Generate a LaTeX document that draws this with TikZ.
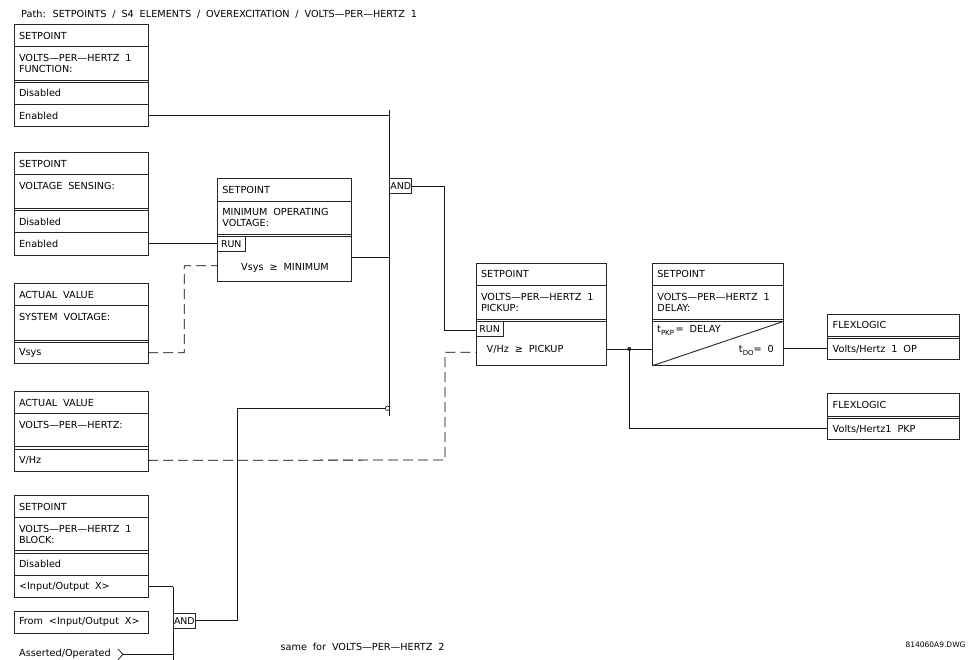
\documentclass[tikz,border=0pt]{standalone}
\usepackage{fontspec}
\setmainfont[WordSpace=1.9]{DejaVu Sans}
\newcommand\ninept{\fontsize{9.7}{11}\selectfont}
\newcommand\subtxt[1]{\raisebox{-3pt}{\fontsize{7}{8}\selectfont #1}}
\begin{document}
\begin{tikzpicture}[x=1pt,y=-1pt,
  bx/.style={draw=black!85, line width=0.9pt},
  rowb/.style={bx, fill=white, anchor=north west, inner xsep=5pt, inner ysep=0pt,
    outer sep=0pt, text width=#1, align=left, font=\ninept,
    execute at begin node={\spaceskip=0pt\xspaceskip=0pt}},
  outerb/.style={bx, anchor=north west, inner sep=0pt, outer sep=0pt},
  txt/.style={inner sep=0pt, font=\ninept, align=left},
  gate/.style={bx, fill=white, anchor=north west, inner sep=0pt, outer sep=0pt,
    font=\fontsize{9.4}{10}\selectfont},
  wire/.style={draw=black!90, line width=0.75pt},
  dwire/.style={draw=black, line width=0.8pt, dash pattern=on 10pt off 5pt},
]
\useasboundingbox (0,0) rectangle (974,660);
\fill[white] (0,0) rectangle (974,660);

\node[txt, anchor=west] (path) at (21,14) {Path: SETPOINTS / S4 ELEMENTS / OVEREXCITATION / VOLTS—PER—HERTZ 1};

% ---- Box F: function
\node[rowb=124pt, minimum height=22.4pt] (f-h) at (14,24.3) {SETPOINT};
\node[rowb=124pt, minimum height=33.3pt] (f-t) at (14,46.7) {VOLTS—PER—HERTZ 1\\FUNCTION:};
\node[rowb=124pt, minimum height=22pt] (f-d) at (14,82.3) {Disabled};
\node[rowb=124pt, minimum height=22.4pt] (f-e) at (14,104.3) {Enabled};
\node[outerb, minimum width=134pt, minimum height=102.4pt] (f) at (14,24.3) {};

% ---- Box VS: voltage sensing
\node[rowb=124pt, minimum height=22pt] (vs-h) at (14,152.7) {SETPOINT};
\node[rowb=124pt, minimum height=34pt] (vs-t) at (14,174.7) {VOLTAGE SENSING:\\\phantom{X}};
\node[rowb=124pt, minimum height=22pt] (vs-d) at (14,210.7) {Disabled};
\node[rowb=124pt, minimum height=22.3pt] (vs-e) at (14,232.7) {Enabled};
\node[outerb, minimum width=134pt, minimum height=102.3pt] (vs) at (14,152.7) {};

% ---- Box SV: system voltage
\node[rowb=124pt, minimum height=21.6pt] (sv-h) at (14,283.7) {ACTUAL VALUE};
\node[rowb=124pt, minimum height=34.7pt] (sv-t) at (14,305.3) {SYSTEM VOLTAGE:\\\phantom{X}};
\node[rowb=124pt, minimum height=21pt] (sv-v) at (14,342.3) {Vsys};
\node[outerb, minimum width=134pt, minimum height=79.6pt] (sv) at (14,283.7) {};

% ---- Box VH: volts per hertz
\node[rowb=124pt, minimum height=21.6pt] (vh-h) at (14,391.7) {ACTUAL VALUE};
\node[rowb=124pt, minimum height=33.4pt] (vh-t) at (14,413.3) {VOLTS—PER—HERTZ:\\\phantom{X}};
\node[rowb=124pt, minimum height=22.7pt] (vh-v) at (14,449) {V/Hz};
\node[outerb, minimum width=134pt, minimum height=80pt] (vh) at (14,391.7) {};

% ---- Box BL: block
\node[rowb=124pt, minimum height=21.6pt] (bl-h) at (14,495.7) {SETPOINT};
\node[rowb=124pt, minimum height=33.4pt] (bl-t) at (14,517.3) {VOLTS—PER—HERTZ 1\\BLOCK:};
\node[rowb=124pt, minimum height=22.7pt] (bl-d) at (14,553) {Disabled};
\node[rowb=124pt, minimum height=22pt] (bl-io) at (14,575.7) {<Input/Output X>};
\node[outerb, minimum width=134pt, minimum height=102pt] (bl) at (14,495.7) {};

\node[rowb=124pt, minimum height=22.3pt] (from) at (14,611) {From <Input/Output X>};
\node[txt, anchor=west] (asrt) at (19,654.3) {Asserted/Operated};
\coordinate (asrt-tip) at (123,654.3);
\draw[wire] (118,649) -- (asrt-tip) -- (118,659.7);

% ---- Minimum operating voltage box
\node[rowb=124pt, minimum height=22.3pt] (mn-h) at (217.3,178.7) {SETPOINT};
\node[rowb=124pt, minimum height=33.3pt] (mn-t) at (217.3,201) {MINIMUM OPERATING\\VOLTAGE:};
\node[rowb=124pt, minimum height=44.3pt] (mn-b) at (217.3,236.7) {};
\node[outerb, minimum width=134pt, minimum height=102.3pt] (mn) at (217.3,178.7) {};
\node[gate, minimum width=28pt, minimum height=14.3pt] (mn-run) at (217.3,236.7) {RUN};
\node[txt] (mn-cmp) at (285,268.3) {Vsys ≥ MINIMUM};

% ---- Pickup box
\node[rowb=120.7pt, minimum height=21.7pt] (pk-h) at (476,263.3) {SETPOINT};
\node[rowb=120.7pt, minimum height=34pt] (pk-t) at (476,285) {VOLTS—PER—HERTZ 1\\PICKUP:};
\node[rowb=120.7pt, minimum height=44.2pt] (pk-b) at (476,321.5) {};
\node[outerb, minimum width=130.7pt, minimum height=102.4pt] (pk) at (476,263.3) {};
\node[gate, minimum width=27.3pt, minimum height=14.5pt] (pk-run) at (476,321.5) {RUN};
\node[txt] (pk-cmp) at (525,349) {V/Hz ≥ PICKUP};

% ---- Delay box
\node[rowb=121pt, minimum height=21.7pt] (dl-h) at (652.3,263.3) {SETPOINT};
\node[rowb=121pt, minimum height=34pt] (dl-t) at (652.3,285) {VOLTS—PER—HERTZ 1\\DELAY:};
\node[rowb=121pt, minimum height=44.2pt] (dl-b) at (652.3,321.5) {};
\node[outerb, minimum width=131pt, minimum height=102.4pt] (dl) at (652.3,263.3) {};
\draw[bx] (dl-b.south west) -- (dl-b.north east);
\node[txt, anchor=west] (dl-pkp) at (657,330.5) {t\subtxt{PKP}\,= DELAY};
\node[txt, anchor=east] (dl-do) at (774,350.5) {t\subtxt{DO}= 0};

% ---- Flexlogic boxes
\node[rowb=121.3pt, minimum height=22pt] (fl1-h) at (827.7,314) {FLEXLOGIC};
\node[rowb=121.3pt, minimum height=21pt] (fl1-o) at (827.7,338.3) {Volts/Hertz 1 OP};
\node[outerb, minimum width=131.3pt, minimum height=45.3pt] (fl1) at (827.7,314) {};
\node[rowb=121.3pt, minimum height=23.4pt] (fl2-h) at (827.7,393.3) {FLEXLOGIC};
\node[rowb=121.3pt, minimum height=21pt] (fl2-o) at (827.7,418.3) {Volts/Hertz1 PKP};
\node[outerb, minimum width=131.3pt, minimum height=46pt] (fl2) at (827.7,393.3) {};

% ---- Upper AND
\coordinate (and1-top) at (389.7,110);
\coordinate (and1-bot) at (389.7,416);
\draw[wire] (and1-top) -- (and1-bot);
\node[gate, minimum width=22pt, minimum height=14.8pt] (and1) at (389.7,178.5) {AND};
\node[circle, draw=black!85, line width=0.7pt, fill=white, inner sep=0pt, minimum size=4.4pt] (inv) at (387.5,408.3) {};

% ---- Lower AND
\coordinate (and2-top) at (173,586.7);
\coordinate (and2-bot) at (173,660);
\draw[wire] (and2-top) -- (and2-bot);
\node[gate, minimum width=22.7pt, minimum height=15pt] (and2) at (173,613.3) {AND};

% ---- Wires
\draw[wire] (f-e.east) -- (f-e.east -| and1-top);
\draw[wire] (vs-e.east) -- (vs-e.east -| mn.west);
\draw[wire] (mn.east |- 0,257.5) -- (389.7,257.5);
\draw[wire] (and1.east) -| (444.3,330) -- (pk-run.west |- 0,330);
\draw[wire] (bl-io.east) -- (and2-top);
\draw[wire] (asrt-tip) -- (asrt-tip -| and2-top);
\draw[wire] (and2.east) -| (237.3,408.3) -- (inv.west);
\draw[dwire] (sv-v.east) -- (184.3,352.7) -- (184.3,265.7) -- (mn.west |- 0,265.7);
\draw[dwire] (vh-v.east) -- (445,460) -- (445,352.3) -- (pk.west |- 0,352.3);
\coordinate (dot) at (629.3,349);
\draw[wire] (pk.east |- dot) -- (dl.west |- dot);
\fill[black!85] (dot) circle (2pt);
\draw[wire] (dl.east |- fl1-o.west) -- (fl1-o.west);
\draw[wire] (dot) |- (fl2-o.west);

\node[txt] (same) at (362.5,646.7) {same for VOLTS—PER—HERTZ 2};
\node[txt, anchor=east, font=\fontsize{7.5}{9}\selectfont] (dwg) at (965.7,645) {814060A9.DWG};
\end{tikzpicture}
\end{document}
